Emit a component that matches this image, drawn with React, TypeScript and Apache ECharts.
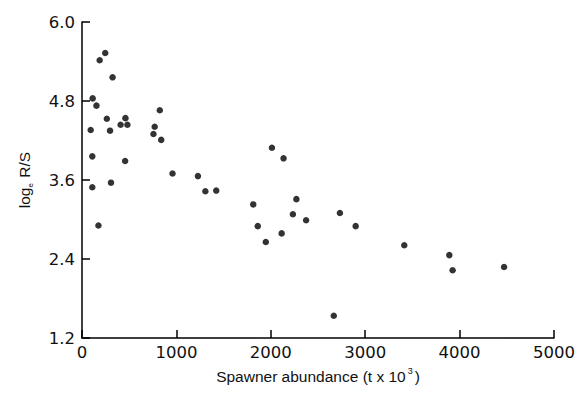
import React, { useEffect, useRef } from "react";
import * as echarts from "echarts";

const spawnerAbundance = [
  246, 187, 324, 113, 153, 824, 263, 460, 409, 481,
  770, 92, 297, 757, 839, 109, 457, 959, 1228, 307,
  109, 174, 1307, 1422, 2012, 2135, 1814, 2271, 2234, 2374,
  1862, 2115, 1947, 2732, 2899, 2667, 3414, 3891, 3926, 4471,
];
const logRS = [
  5.53, 5.42, 5.16, 4.84, 4.73, 4.66, 4.53, 4.54, 4.44, 4.44,
  4.41, 4.36, 4.35, 4.30, 4.21, 3.96, 3.89, 3.70, 3.66, 3.56,
  3.49, 2.91, 3.43, 3.44, 4.09, 3.93, 3.23, 3.31, 3.08, 2.99,
  2.90, 2.79, 2.66, 3.10, 2.90, 1.54, 2.61, 2.46, 2.23, 2.28,
];
const xTicks = [0, 1000, 2000, 3000, 4000, 5000];
const yTicks = [1.2, 2.4, 3.6, 4.8, 6.0];

const FONT = "Liberation Sans, Arial, sans-serif";
const TICK_FONT = "DejaVu Sans, sans-serif";

export default function App() {
  const ref = useRef<HTMLDivElement>(null);
  useEffect(() => {
    if (!ref.current) return;
    const chart = echarts.init(ref.current, undefined, { renderer: "svg" });
    const data = spawnerAbundance.map((x, i) => [x, logRS[i]]);
    chart.setOption({
      animation: false,
      backgroundColor: "#ffffff",
      // the div sits inside the page's 8px body margin: page plot box is 75..564 x 22..344
      grid: { left: 67, right: 14, top: 14, bottom: 45, containLabel: false },
      xAxis: {
        type: "value",
        min: xTicks[0],
        max: xTicks[xTicks.length - 1],
        interval: 1000,
        name: "{a|Spawner abundance (t x 10}{sup|3}{a|)}",
        nameLocation: "middle",
        nameGap: 26,
        nameTextStyle: {
          rich: {
            a: { fontFamily: FONT, fontSize: 15.5, color: "#111", verticalAlign: "bottom", lineHeight: 18 },
            sup: { fontFamily: FONT, fontSize: 9, color: "#111", verticalAlign: "top", padding: [0, 2, 0, 2], lineHeight: 18 },
          },
        },
        axisLine: { show: true, lineStyle: { color: "#000", width: 1.5 } },
        axisTick: { show: true, inside: true, length: 8, lineStyle: { color: "#000", width: 1.5 } },
        axisLabel: { color: "#111", fontFamily: TICK_FONT, fontSize: 16.5, margin: 6, formatter: (v: number) => String(v) },
        splitLine: { show: false },
      },
      yAxis: {
        type: "value",
        min: yTicks[0],
        max: yTicks[yTicks.length - 1],
        interval: 1.2,
        name: "{a|log}{sub|e}{a| R/S}",
        nameLocation: "middle",
        nameRotate: 90,
        nameGap: 48,
        nameTextStyle: {
          rich: {
            a: { fontFamily: FONT, fontSize: 15.5, color: "#111", verticalAlign: "top", lineHeight: 18 },
            sub: { fontFamily: FONT, fontSize: 8, color: "#111", verticalAlign: "bottom", padding: [0, 1, 0, 0], lineHeight: 18 },
          },
        },
        axisLine: { show: true, lineStyle: { color: "#000", width: 1.5 } },
        axisTick: { show: true, inside: true, length: 8, lineStyle: { color: "#000", width: 1.5 } },
        axisLabel: { color: "#111", fontFamily: TICK_FONT, fontSize: 16.5, margin: 7, formatter: (v: number) => v.toFixed(1) },
        splitLine: { show: false },
      },
      series: [
        { type: "scatter", data, symbol: "circle", symbolSize: 6.5, itemStyle: { color: "#000" } },
      ],
    });
    return () => chart.dispose();
  }, []);
  return <div ref={ref} style={{ width: 570, height: 381 }} />;
}
